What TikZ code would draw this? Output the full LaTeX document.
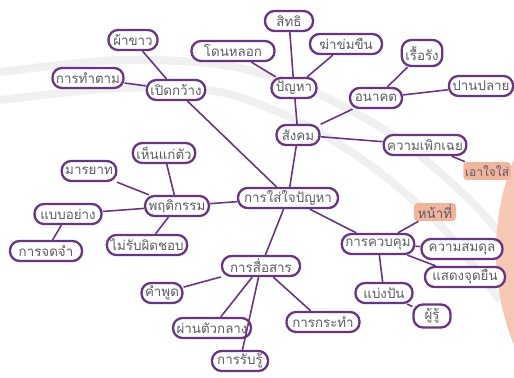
\documentclass[tikz,border=0pt]{standalone}
\usepackage{fontspec}
\newfontfamily\thaifont[Script=Thai]{Loma}
\usepackage{tikz}
\usetikzlibrary{positioning}
\definecolor{morado}{RGB}{104,52,132}
\definecolor{salmonclaro}{RGB}{242,180,156}
\definecolor{circulo}{RGB}{246,200,180}
\definecolor{texto}{RGB}{92,92,100}
\tikzset{
  caja/.style={draw=morado,line width=1.3pt,fill=white,rounded corners=0.19cm,minimum height=0.4cm,
    inner xsep=2pt,inner ysep=1pt,text=texto,font=\thaifont\fontsize{7.6}{9}\selectfont},
  resaltado/.style={fill=salmonclaro,rounded corners=2pt,minimum height=0.36cm,inner xsep=2pt,
    inner ysep=1pt,text=texto,font=\thaifont\fontsize{7.6}{9}\selectfont},
  ancho/.style={minimum width=#1*0.02cm},
  rama/.style={morado,line width=0.9pt},
  marca/.style={gray!12,line width=0.16cm}
}

\begin{document}
\begin{tikzpicture}[x=0.02cm,y=-0.02cm]
\useasboundingbox (0,0) rectangle (514,378);
\clip (0,0) rectangle (514,378);
% fondo
\draw[marca] plot[smooth] coordinates {(0,72) (120,60) (230,66) (320,95) (400,140) (470,200) (514,250)};
\draw[marca] plot[smooth] coordinates {(0,100) (120,88) (220,92) (300,122) (370,165) (440,225) (500,300)};
\fill[circulo] (745,252) circle[radius=249*0.02cm];
% nodos
\node[caja,ancho=49] (phakhao) at (133,40) {ผ้าขาว};
\node[caja,ancho=70] (thamtam) at (88,78) {การทำตาม};
\node[caja,ancho=58] (poet) at (176,90) {เปิดกว้าง};
\node[caja,ancho=83] (donlok) at (233,51) {โดนหลอก};
\node[caja,ancho=48] (sitthi) at (289,21) {สิทธิ};
\node[caja,ancho=72] (kha) at (346,44) {ฆ่าข่มขืน};
\node[caja,ancho=45] (panha) at (294,88) {ปัญหา};
\node[caja,ancho=38,minimum height=0.52cm] (rueorang) at (422,53) {เรื้อรัง};
\node[caja,ancho=63] (panplai) at (481,86) {ปานปลาย};
\node[caja,ancho=52] (anakhot) at (376,98) {อนาคต};
\node[caja,ancho=43] (sangkhom) at (298,135) {สังคม};
\node[caja,ancho=75] (phoekchoei) at (425,145) {ความเพิกเฉย};
\node[resaltado,anchor=west,inner xsep=1pt,font=\thaifont\fontsize{6.8}{8}\selectfont] (aochai) at (463,171) {เอาใจใส่};
\node[caja,ancho=100] (chai) at (288,198) {การใส่ใจปัญหา};
\node[resaltado,ancho=42] (nathi) at (435,212) {หน้าที่};
\node[caja,ancho=71] (khuapkhum) at (378,244) {การควบคุม};
\node[caja,ancho=81] (somdun) at (462,249) {ความสมดุล};
\node[caja,ancho=80] (sadaeng) at (465,277) {แสดงจุดยืน};
\node[caja,ancho=57] (baengpan) at (384,293) {แบ่งปัน};
\node[caja,ancho=37,minimum height=0.46cm] (phuru) at (432,316) {ผู้รู้};
\node[caja,ancho=62] (henkaetua) at (164,153) {เห็นแก่ตัว};
\node[caja,ancho=48] (marayat) at (89,171) {มารยาท};
\node[caja,ancho=60] (phruttikam) at (177,206) {พฤติกรรม};
\node[caja,ancho=67] (baepyang) at (68,214) {แบบอย่าง};
\node[caja,ancho=72] (chotcham) at (46,251) {การจดจำ};
\node[caja,ancho=77] (mairap) at (147,245) {ไม่รับผิดชอบ};
\node[caja,ancho=78] (suesan) at (261,266) {การสื่อสาร};
\node[caja,ancho=40] (khamphut) at (162,293) {คำพูด};
\node[caja,ancho=73] (phantua) at (212,328) {ผ่านตัวกลาง};
\node[caja,ancho=73] (kratham) at (323,322) {การกระทำ};
\node[caja,ancho=56] (rapru) at (240,361) {การรับรู้};
% ramas
\foreach \a/\b in {phakhao/poet,thamtam/poet,poet/chai,donlok/panha,sitthi/panha,kha/panha,
  panha/sangkhom,sangkhom/anakhot,anakhot/rueorang,anakhot/panplai,sangkhom/phoekchoei,
  phoekchoei/aochai,sangkhom/chai,chai/phruttikam,phruttikam/henkaetua,phruttikam/marayat,
  phruttikam/baepyang,phruttikam/mairap,baepyang/chotcham,chai/suesan,suesan/khamphut,
  suesan/phantua,suesan/rapru,suesan/kratham,chai/khuapkhum,khuapkhum/nathi,khuapkhum/somdun,
  khuapkhum/sadaeng,khuapkhum/baengpan,baengpan/phuru}
  \draw[rama] (\a) -- (\b);
\end{tikzpicture}
\end{document}
